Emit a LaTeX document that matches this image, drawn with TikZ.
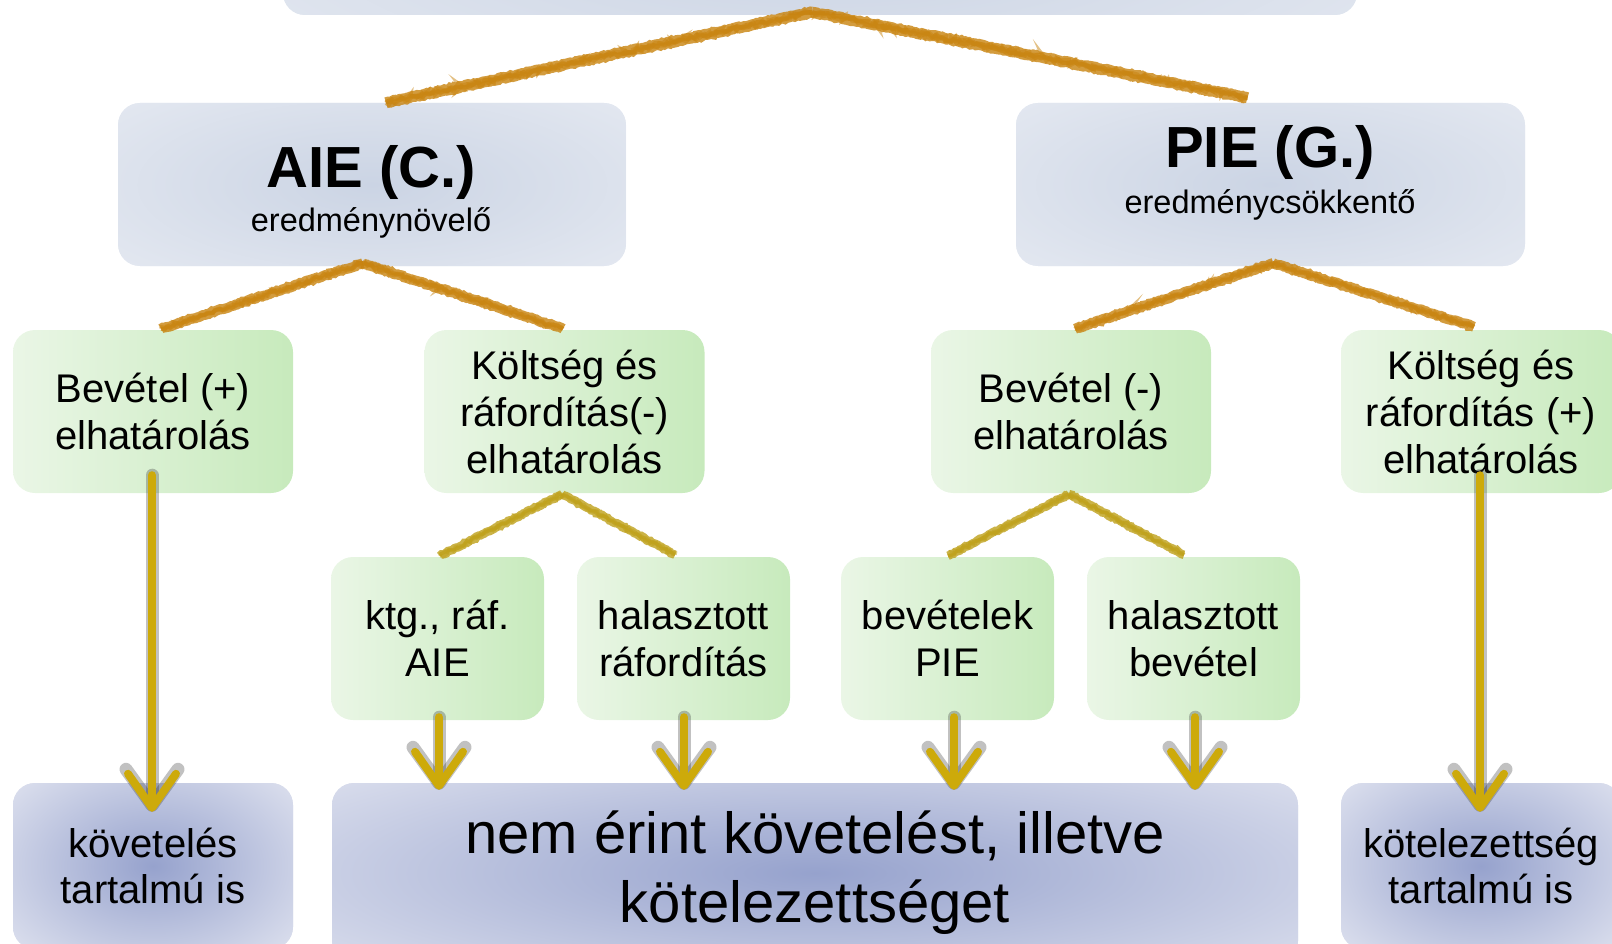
\documentclass[tikz,border=0pt]{standalone}
\usepackage{fontspec}
\setmainfont{Liberation Sans}
\usetikzlibrary{calc,arrows.meta,decorations.pathmorphing,shadings}
\definecolor{orangec}{RGB}{200,131,14}
\definecolor{olivec}{RGB}{190,160,25}
\definecolor{goldc}{RGB}{205,170,10}
\definecolor{topin}{RGB}{203,212,228}
\definecolor{topout}{RGB}{236,239,245}
\definecolor{grl}{RGB}{234,246,230}
\definecolor{grr}{RGB}{199,234,188}
\definecolor{botin}{RGB}{150,162,205}
\definecolor{botout}{RGB}{225,228,240}
\newcommand\pline[4]{%
  \draw[pencilbase={#1}{#4}] #2 -- #3;
  \foreach \k in {1,2,3}{\draw[pencilfine={#1}{#4}] #2 -- #3;}}
\newcommand\garrow[2]{%
  \draw[arrowshadow] #1 -- #2;
  \draw[goldarrow] #1 -- #2;}
\begin{document}
\begin{tikzpicture}[x=1pt,y=-1pt,
  boxbase/.style={rectangle,rounded corners=22pt,inner sep=0pt,align=center,text=black},
  topbox/.style 2 args={boxbase,fill=topout,path picture={
     \shade[inner color=topin,outer color=topout]
       (path picture bounding box.center) ellipse [x radius=#1,y radius=#2];}},
  greenbox/.style={boxbase,left color=grl,right color=grr,
     minimum height=163pt,font=\fontsize{40}{47}\selectfont},
  bluebox/.style 2 args={boxbase,fill=botout,path picture={
     \shade[inner color=botin,outer color=botout]
       (path picture bounding box.center) ellipse [x radius=#1,y radius=#2];},
     minimum height=166pt,font=\fontsize{40}{46}\selectfont},
  pencilbase/.style 2 args={draw=#1,line width=#2,opacity=0.8,
     decorate,decoration={random steps,segment length=2pt,amplitude=0.7pt}},
  pencilfine/.style 2 args={draw=#1,line width=0.4*#2,opacity=0.5,
     decorate,decoration={random steps,segment length=3pt,amplitude=0.22*#2}},
  goldarrow/.style={draw=goldc,line width=8pt,line cap=round,
     -{Straight Barb[length=34pt,width=48pt,line width=8pt,round]}},
  arrowshadow/.style={draw=black!80,opacity=0.3,line width=13pt,line cap=round,
     -{Straight Barb[length=36pt,width=52pt,line width=13pt,round]}},
  titlef/.style={font=\fontsize{58}{62}\bfseries\selectfont},
  subf/.style={font=\fontsize{32.5}{36}\selectfont}
]
\useasboundingbox (0,0) rectangle (1612,944);
\clip (0,0) rectangle (1612,944);
\pgfmathsetseed{7}
% boxes
\node[topbox={1000pt}{260pt},minimum width=1074pt,minimum height=140pt] (top) at (820,-55) {};
\node[topbox={470pt}{170pt},minimum width=508pt,minimum height=163pt] (aie) at (372,184.5) {};
\node[topbox={470pt}{170pt},minimum width=509pt,minimum height=163pt] (pie) at (1270.5,184.5) {};
\node[titlef] (aiet) at (371,173) {AIE (C.)};
\node[subf] (aies) at (371,223) {eredménynövelő};
\node[titlef] (piet) at (1270,153) {PIE (G.)};
\node[subf] (pies) at (1270,205) {eredménycsökkentő};

\node[greenbox,minimum width=280pt] (b1) at (153,411.5) {Bevétel (+)\\elhatárolás};
\node[greenbox,minimum width=280pt] (b2) at (564.5,411.5) {Költség és\\ráfordítás(-)\\elhatárolás};
\node[greenbox,minimum width=280pt] (b3) at (1071,411.5) {Bevétel (-)\\elhatárolás};
\node[greenbox,minimum width=280pt] (b4) at (1481,411.5) {Költség és\\ráfordítás (+)\\elhatárolás};

\node[greenbox,minimum width=213pt] (c1) at (437.5,638.5) {ktg., ráf.\\AIE};
\node[greenbox,minimum width=213pt] (c2) at (683.5,638.5) {halasztott\\ráfordítás};
\node[greenbox,minimum width=213pt] (c3) at (947.5,638.5) {bevételek\\PIE};
\node[greenbox,minimum width=213pt] (c4) at (1193.5,638.5) {halasztott\\bevétel};

\node[bluebox={200pt}{135pt},minimum width=280pt] (d1) at (153,866) {követelés\\tartalmú is};
\node[bluebox={720pt}{160pt},minimum width=966pt,minimum height=180pt,font=\fontsize{58}{69}\selectfont] (d2) at (815,873) {nem érint követelést, illetve\\kötelezettséget};
\node[bluebox={200pt}{135pt},minimum width=280pt] (d3) at (1481,866) {kötelezettség\\tartalmú is};

% connector points
\coordinate (tA) at ($(top.south)+(-8,-3)$);
\coordinate (tL) at ($(aie.north)+(14,0)$);
\coordinate (tR) at ($(pie.north)+(-23,-5)$);
\coordinate (aA) at ($(aie.south)+(-9,-3)$);
\coordinate (aL) at ($(b1.north)+(8,-1)$);
\coordinate (aR) at ($(b2.north)+(-1.5,-1)$);
\coordinate (pA) at ($(pie.south)+(2.5,-3)$);
\coordinate (pL) at ($(b3.north)+(4,-1)$);
\coordinate (pR) at ($(b4.north)+(-7,-3)$);
\coordinate (kA) at ($(b2.south)+(-2.5,1)$);
\coordinate (kL) at ($(c1.north)+(2.5,-1)$);
\coordinate (kR) at ($(c2.north)+(-8.5,-2)$);
\coordinate (vA) at ($(b3.south)+(-2,1)$);
\coordinate (vL) at ($(c3.north)+(0.5,-1)$);
\coordinate (vR) at ($(c4.north)+(-9.5,-2)$);

\pline{orangec}{(tL)}{(tA)}{11pt}
\pline{orangec}{(tA)}{(tR)}{11pt}
\pline{orangec}{(aL)}{(aA)}{10pt}
\pline{orangec}{(aA)}{(aR)}{10pt}
\pline{orangec}{(pL)}{(pA)}{10pt}
\pline{orangec}{(pA)}{(pR)}{10pt}
\pline{olivec}{(kL)}{(kA)}{8.5pt}
\pline{olivec}{(kA)}{(kR)}{8.5pt}
\pline{olivec}{(vL)}{(vA)}{8.5pt}
\pline{olivec}{(vA)}{(vR)}{8.5pt}

% arrows
\garrow{($(b1.south)+(-1,-18)$)}{($(d1.north)+(-1,29)$)}
\garrow{($(b4.south)+(-1,-18)$)}{($(d3.north)+(-1,29)$)}
\garrow{($(c1.south)+(1.5,-3)$)}{($(c1.south |- d2.north)+(1.5,7)$)}
\garrow{($(c2.south)+(0.5,-3)$)}{($(c2.south |- d2.north)+(0.5,7)$)}
\garrow{($(c3.south)+(6.5,-3)$)}{($(c3.south |- d2.north)+(6.5,7)$)}
\garrow{($(c4.south)+(1.5,-3)$)}{($(c4.south |- d2.north)+(1.5,7)$)}
\end{tikzpicture}
\end{document}
